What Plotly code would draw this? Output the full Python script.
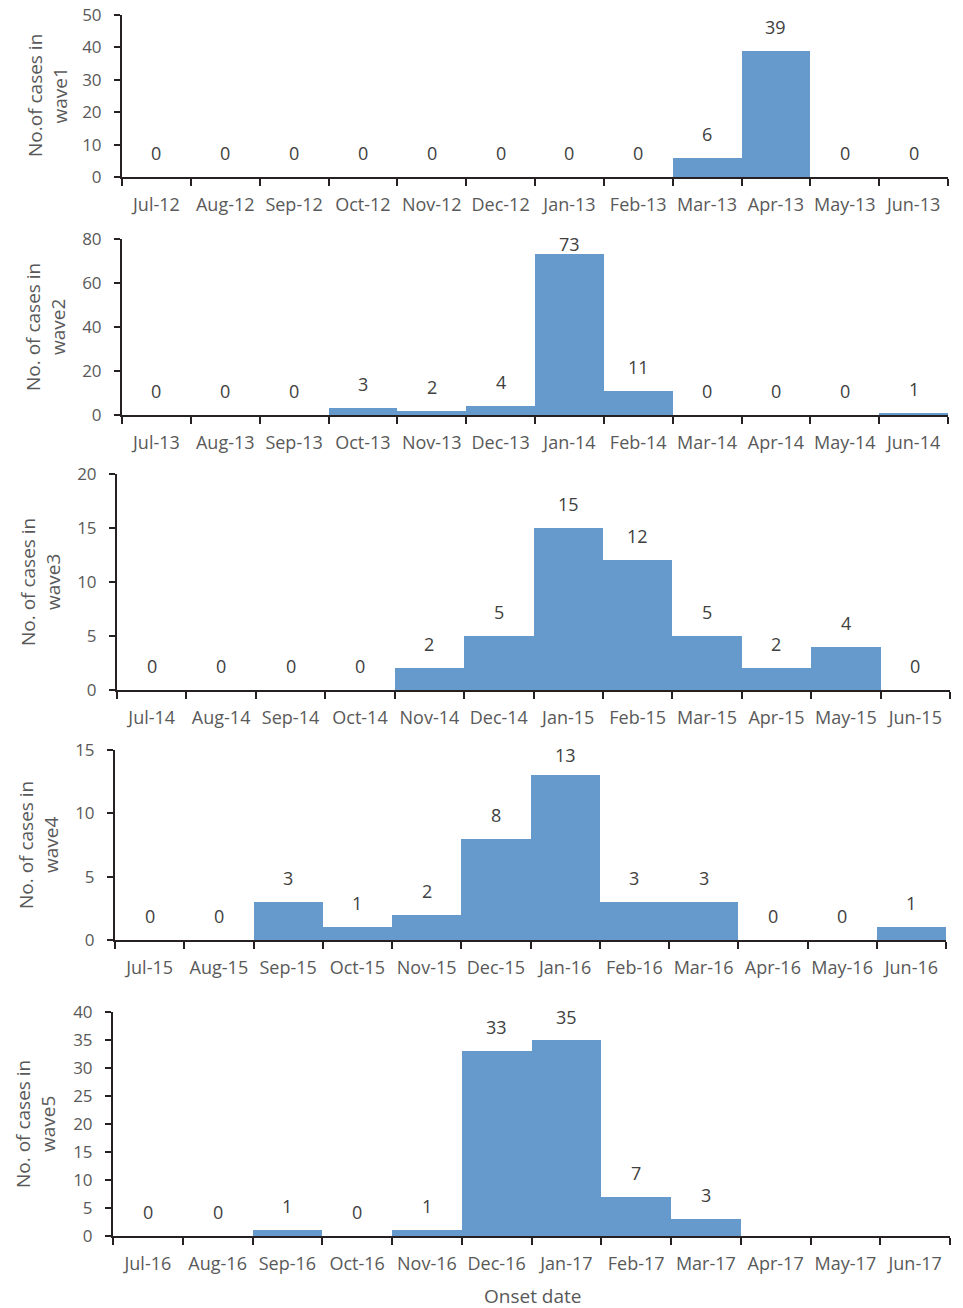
import plotly.graph_objects as go

W, H = 963, 1308

months1 = ["Jul-12", "Aug-12", "Sep-12", "Oct-12", "Nov-12", "Dec-12", "Jan-13", "Feb-13", "Mar-13", "Apr-13", "May-13", "Jun-13"]
wave1 = [0, 0, 0, 0, 0, 0, 0, 0, 6, 39, 0, 0]

months2 = ["Jul-13", "Aug-13", "Sep-13", "Oct-13", "Nov-13", "Dec-13", "Jan-14", "Feb-14", "Mar-14", "Apr-14", "May-14", "Jun-14"]
wave2 = [0, 0, 0, 3, 2, 4, 73, 11, 0, 0, 0, 1]

months3 = ["Jul-14", "Aug-14", "Sep-14", "Oct-14", "Nov-14", "Dec-14", "Jan-15", "Feb-15", "Mar-15", "Apr-15", "May-15", "Jun-15"]
wave3 = [0, 0, 0, 0, 2, 5, 15, 12, 5, 2, 4, 0]

months4 = ["Jul-15", "Aug-15", "Sep-15", "Oct-15", "Nov-15", "Dec-15", "Jan-16", "Feb-16", "Mar-16", "Apr-16", "May-16", "Jun-16"]
wave4 = [0, 0, 3, 1, 2, 8, 13, 3, 3, 0, 0, 1]

months5 = ["Jul-16", "Aug-16", "Sep-16", "Oct-16", "Nov-16", "Dec-16", "Jan-17", "Feb-17", "Mar-17", "Apr-17", "May-17", "Jun-17"]
wave5 = [0, 0, 1, 0, 1, 33, 35, 7, 3, None, None, None]

y_titles = ["No.of cases in<br>wave1", "No. of cases in<br>wave2", "No. of cases in<br>wave3",
            "No. of cases in<br>wave4", "No. of cases in<br>wave5"]
y_max = [50, 80, 20, 15, 40]
y_dtick = [10, 20, 5, 5, 5]

# pixel layout of each panel: (left, right, top, bottom, title_x)
panels = [
    (122, 948, 15, 177, 47),
    (122, 948, 239, 415, 45),
    (117, 950, 474, 690, 40),
    (115, 946, 750, 940, 38),
    (113, 950, 1012, 1236, 35),
]

months = [months1, months2, months3, months4, months5]
waves = [wave1, wave2, wave3, wave4, wave5]

FONT = "Open Sans"
GRAY = "#595959"
AXIS = "#262022"
BAR = "#6699CC"


def px_x(x):
    return x / W


def px_y(y):
    return 1 - y / H


fig = go.Figure()
layout = dict(
    width=W, height=H, margin=dict(l=0, r=0, t=0, b=0, pad=0, autoexpand=False),
    paper_bgcolor="white", plot_bgcolor="white",
    showlegend=False, bargap=0,
    font=dict(family=FONT, color=GRAY, size=16),
)
annotations = []

for i in range(5):
    n = i + 1
    xa = "x" if n == 1 else f"x{n}"
    ya = "y" if n == 1 else f"y{n}"
    left, right, top, bottom, tx = panels[i]
    fig.add_trace(go.Bar(
        x=months[i], y=waves[i], xaxis=xa, yaxis=ya,
        marker=dict(color=BAR, line=dict(width=0)),
        hoverinfo="x+y",
    ))
    layout[f"xaxis{'' if n == 1 else n}"] = dict(
        domain=[px_x(left), px_x(right)], anchor=ya, type="category",
        showline=True, linecolor=AXIS, linewidth=2,
        ticks="outside", tickson="boundaries", ticklen=7, tickwidth=1.5, tickcolor=AXIS,
        tickangle=0, ticklabelstandoff=10, automargin=False,
        tickfont=dict(family=FONT, size=18, color=GRAY),
        showgrid=False, zeroline=False, fixedrange=True,
    )
    layout[f"yaxis{'' if n == 1 else n}"] = dict(
        domain=[px_y(bottom), px_y(top)], anchor=xa,
        range=[0, y_max[i]], dtick=y_dtick[i], tick0=0,
        showline=True, linecolor=AXIS, linewidth=2,
        ticks="outside", ticklen=6, tickwidth=1.5, tickcolor=AXIS,
        ticklabelstandoff=9, automargin=False, ticklabeloverflow="allow",
        tickfont=dict(family=FONT, size=17, color=GRAY),
        showgrid=False, zeroline=False, fixedrange=True,
    )
    ph = bottom - top
    for m, v in zip(months[i], waves[i]):
        if v is None:
            continue
        top_dist = (y_max[i] - v) / y_max[i] * ph
        shift = min(24, top_dist - 5)
        annotations.append(dict(
            x=m, y=v, xref=xa, yref=ya, text=str(v), showarrow=False,
            yanchor="middle", yshift=shift,
            font=dict(family=FONT, size=18, color="#404040"),
        ))
    annotations.append(dict(
        x=px_x(tx), y=px_y((top + bottom) / 2), xref="paper", yref="paper",
        text=y_titles[i], showarrow=False, textangle=-90,
        xanchor="center", yanchor="middle",
        font=dict(family=FONT, size=19, color=GRAY),
    ))

annotations.append(dict(
    x=px_x(533), y=px_y(1296), xref="paper", yref="paper", text="Onset date",
    showarrow=False, xanchor="center", yanchor="middle",
    font=dict(family=FONT, size=19, color=GRAY),
))

layout["annotations"] = annotations
fig.update_layout(**layout)
# remove the default page margin so the figure fills the 963x1308 window exactly
fig.write_html("out.html", config={"displayModeBar": False},
               post_script="document.body.style.margin='0px';")
